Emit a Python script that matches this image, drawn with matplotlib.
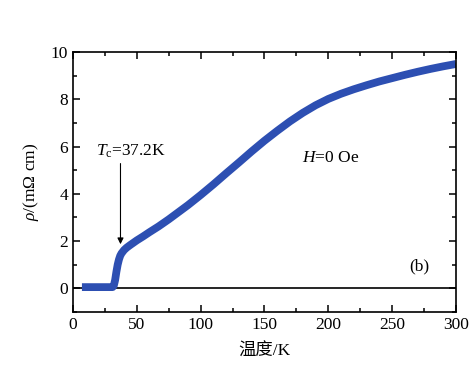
import numpy as np
import matplotlib.pyplot as plt
from matplotlib.ticker import MultipleLocator

plt.rcParams.update({
    'font.family': ['Liberation Serif', 'Noto Sans CJK SC'],
    'mathtext.fontset': 'custom',
    'mathtext.rm': 'Liberation Serif',
    'mathtext.it': 'Liberation Serif:italic',
    'font.size': 12,
})

# Resistivity vs temperature
T = [7, 15, 25, 31, 32, 33, 34, 35, 36, 37, 38, 40, 42, 45, 50, 55, 60,
     67, 75, 82, 90, 100, 110, 120, 130, 140, 150, 160, 170, 180, 190,
     200, 210, 220, 230, 240, 250, 260, 270, 280, 290, 300]
rho = [0.05, 0.05, 0.05, 0.05, 0.12, 0.35, 0.7, 1.0, 1.22, 1.38, 1.48,
       1.62, 1.72, 1.84, 2.03, 2.2, 2.38, 2.62, 2.92, 3.2, 3.52, 3.95,
       4.4, 4.87, 5.33, 5.8, 6.25, 6.67, 7.07, 7.43, 7.75, 8.02, 8.24,
       8.43, 8.6, 8.76, 8.9, 9.04, 9.17, 9.29, 9.4, 9.5]

Tc = 37.2

fig = plt.figure(figsize=(4.74, 3.70), dpi=100)
ax = fig.add_axes([0.154, 0.157, 0.808, 0.702])

ax.axhline(0, color='black', linewidth=1.2, zorder=1)
ax.plot(T, rho, color='#2d4fb2', linewidth=5.6, solid_capstyle='butt',
        solid_joinstyle='round', zorder=2)

ax.annotate('', xy=(Tc, 1.75), xytext=(Tc, 5.4),
            arrowprops=dict(arrowstyle='-|>', color='black', lw=0.8,
                            mutation_scale=9))
ax.text(18, 5.8, r'$T_{\rm c}$=37.2K', ha='left', va='center',
        fontsize=12.5)
ax.text(179, 5.5, r'$H$=0 Oe', ha='left', va='center', fontsize=12.5)
ax.text(263, 0.93, '(b)', ha='left', va='center', fontsize=12.5)

ax.set_xlim(0, 300)
ax.set_ylim(-1, 10)
ax.xaxis.set_major_locator(MultipleLocator(50))
ax.xaxis.set_minor_locator(MultipleLocator(25))
ax.yaxis.set_major_locator(MultipleLocator(2))
ax.yaxis.set_minor_locator(MultipleLocator(1))
ax.tick_params(which='both', direction='in', top=True, right=True,
               labelsize=12.5, width=1.1)
ax.tick_params(which='major', length=5)
ax.tick_params(which='minor', length=3)
for s in ax.spines.values():
    s.set_linewidth(1.2)

ax.set_xlabel('温度/K', fontsize=12.5, labelpad=8)
ax.set_ylabel(r'$\rho$/(m$\Omega$ cm)', fontsize=12.5, labelpad=7)

fig.savefig('out.png', dpi=100)
